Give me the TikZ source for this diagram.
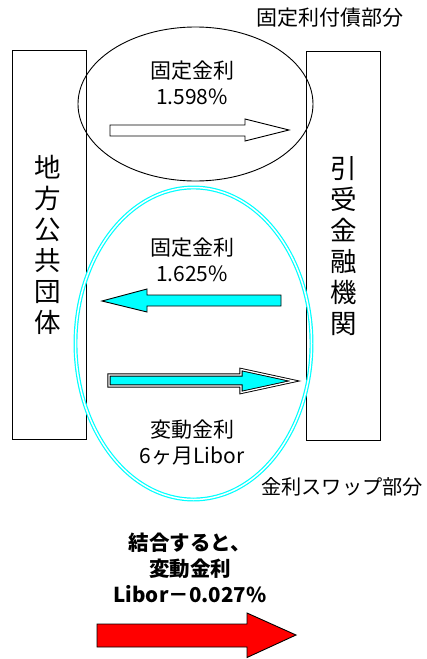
\documentclass[tikz,border=0pt]{standalone}
\usepackage{fontspec}
\setmainfont{Noto Sans CJK JP}
\usetikzlibrary{shapes.geometric}
\definecolor{aqua}{RGB}{0,255,255}
\definecolor{redarrow}{RGB}{255,0,0}
\begin{document}
\begin{tikzpicture}[x=1pt,y=-1pt,
  party/.style={draw=black,line width=0.9pt,minimum width=74pt,minimum height=389pt,inner sep=0pt},
  vtext/.style={align=center,font=\fontsize{26.5}{31}\selectfont,inner sep=0pt},
  lbl/.style={align=center,font=\fontsize{21}{26}\selectfont,inner sep=0pt},
  side/.style={font=\fontsize{21}{22}\selectfont,inner sep=0pt},
  bold/.style={align=center,font=\fontsize{20.5}{26}\selectfont\bfseries,inner sep=0pt},
  blockarrow/.style={draw=black,line width=0.9pt,line join=miter}
]
\useasboundingbox (0,0) rectangle (426,659);
% parties
\node[party] (left) at (49,244.5) {};
\node[party] (right) at (343.5,246) {};
\node[vtext] (lefttxt) at (48,245) {地\\方\\公\\共\\団\\体};
\node[vtext] (righttxt) at (343.5,246) {引\\受\\金\\融\\機\\関};
% ellipses
\node[draw=black,line width=0.9pt,ellipse,minimum width=235pt,minimum height=154pt,inner sep=0pt] (bond) at (195.5,104) {};
\node[draw=aqua,double=white,double distance=1.5pt,line width=1.2pt,ellipse,minimum width=236pt,minimum height=312pt,inner sep=0pt] (swap) at (193.5,343.5) {};
% labels
\node[side] (bondlbl) at (330,18) {固定利付債部分};
\node[side,font=\fontsize{20.2}{22}\selectfont] (swaplbl) at (342,487) {金利スワップ部分};
\node[lbl] (fix1) at (192,83) {固定金利\\1.598\%};
\node[lbl] (fix2) at (192,260) {固定金利\\1.625\%};
\node[lbl] (flt) at (192,443) {変動金利\\6ヶ月Libor};
\node[bold] (result) at (190,568) {結合すると、\\変動金利\\Libor－0.027\%};
% arrows
\draw[blockarrow,fill=white] (110,125) -- (245,125) -- (245,119) -- (289,130) -- (245,141) -- (245,136) -- (110,136) -- cycle;
\draw[blockarrow,fill=aqua] (281,295) -- (147,295) -- (147,289) -- (102,301) -- (147,312) -- (147,306) -- (281,306) -- cycle;
\draw[blockarrow,fill=aqua,double=white,double distance=1.3pt,line width=0.9pt] (109,375) -- (241,375) -- (241,369.5) -- (294,381) -- (241,392.5) -- (241,386) -- (109,386) -- cycle;
\draw[blockarrow,fill=redarrow] (97,624) -- (247,624) -- (247,613) -- (296,635) -- (247,657.5) -- (247,647) -- (97,647) -- cycle;
\end{tikzpicture}
\end{document}
